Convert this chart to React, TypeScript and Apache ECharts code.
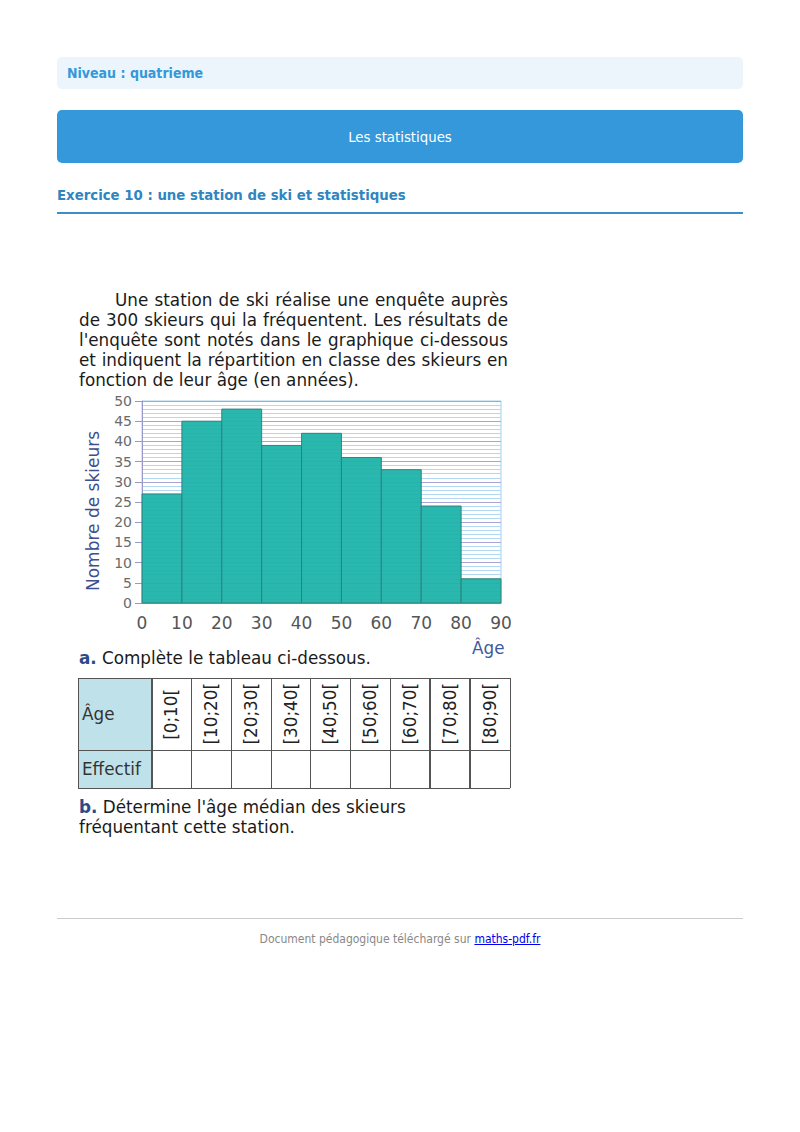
import React, { useEffect, useRef } from "react";
import * as echarts from "echarts";

const classStarts = [0, 10, 20, 30, 40, 50, 60, 70, 80];
const classEnds = [10, 20, 30, 40, 50, 60, 70, 80, 90];
const skiers = [27, 45, 48, 39, 42, 36, 33, 24, 6];
const classLabels = ["[0;10[", "[10;20[", "[20;30[", "[30;40[", "[40;50[", "[50;60[", "[60;70[", "[70;80[", "[80;90["];
const yAxisName = "Nombre de skieurs";
const xAxisName = "Âge";

const paragraphLines = [
  "Une station de ski réalise une enquête auprès",
  "de 300 skieurs qui la fréquentent. Les résultats de",
  "l'enquête sont notés dans le graphique ci-dessous",
  "et indiquent la répartition en classe des skieurs en",
  "fonction de leur âge (en années).",
];

const sansC = '"DejaVu Sans Condensed", "DejaVu Sans", sans-serif';
const sans = '"DejaVu Sans", Verdana, sans-serif';
const bodySize = 16.8;

function Histogram() {
  const ref = useRef<HTMLDivElement>(null);
  useEffect(() => {
    if (!ref.current) return;
    const chart = echarts.init(ref.current, null, { renderer: "svg" });
    const data = classStarts.map((s, i) => [s, classEnds[i], skiers[i]]);
    chart.setOption({
      animation: false,
      grid: {
        left: 64,
        top: 13,
        width: 359,
        height: 202,
        show: true,
        backgroundColor: "#ffffff",
        borderColor: "#9fd0ef",
        borderWidth: 1,
      },
      graphic: [
        {
          type: "text",
          x: 15,
          y: 123,
          rotation: Math.PI / 2,
          style: {
            text: yAxisName,
            fontSize: 17,
            fill: "#3d4f8f",
            fontFamily: sans,
            align: "center",
            verticalAlign: "middle",
          },
        },
      ],
      xAxis: {
        type: "value",
        min: 0,
        max: 90,
        interval: 10,
        axisLine: { show: true, lineStyle: { color: "#9a98c8", width: 1 } },
        axisTick: { show: false },
        axisLabel: { fontSize: 17, color: "#555", margin: 11, fontFamily: sans },
        splitLine: { show: false },
      },
      yAxis: {
        type: "value",
        min: 0,
        max: 50,
        interval: 5,
        axisLine: { show: true, lineStyle: { color: "#9a98c8", width: 1 } },
        axisTick: { show: true, length: 7, lineStyle: { color: "#9a98c8" } },
        axisLabel: { fontSize: 14, color: "#6a6a6a", margin: 10, fontFamily: sans },
        splitLine: { show: true, lineStyle: { color: "#a9a3d9", width: 1 } },
        minorTick: { show: false, splitNumber: 5 },
        minorSplitLine: { show: true, lineStyle: { color: "#b3d9f2", width: 1 } },
      },
      series: [
        {
          type: "custom",
          data,
          encode: { x: [0, 1], y: 2 },
          renderItem: (params: any, api: any) => {
            const p0 = api.coord([api.value(0), 0]);
            const p1 = api.coord([api.value(1), api.value(2)]);
            return {
              type: "rect",
              shape: { x: p0[0], y: p1[1], width: p1[0] - p0[0], height: p0[1] - p1[1] },
              style: { fill: "#1fb3aa", stroke: "#2f7f7b", lineWidth: 1, opacity: 0.95 },
            };
          },
        },
      ],
    });
    return () => chart.dispose();
  }, []);
  return <div ref={ref} style={{ position: "absolute", left: 78, top: 388, width: 440, height: 250 }} />;
}

export default function App() {
  const colLefts = [0, 73.5, 113, 153, 193, 232, 272, 312, 351.5, 391.5, 432];
  return (
    <div style={{ position: "absolute", left: 0, top: 0, width: 800, height: 1132, background: "#fff", fontFamily: sansC }}>
      <div style={{ position: "absolute", left: 57, top: 57, width: 686, height: 32, background: "#ebf5fb", borderRadius: 5 }}>
        <div style={{ position: "absolute", left: 10, top: 0, lineHeight: "32px", fontSize: 14, fontWeight: "bold", color: "#3498db", fontStretch: "condensed" }}>
          Niveau : quatrieme
        </div>
      </div>
      <div style={{ position: "absolute", left: 57, top: 110, width: 686, height: 53, background: "#3498db", borderRadius: 5, color: "#fff", textAlign: "center", lineHeight: "53px", fontSize: 14.8, fontStretch: "condensed" }}>
        Les statistiques
      </div>
      <div style={{ position: "absolute", left: 57, top: 185, lineHeight: "20px", fontSize: 14.8, fontWeight: "bold", color: "#2e86c1", fontStretch: "condensed" }}>
        Exercice 10 : une station de ski et statistiques
      </div>
      <div style={{ position: "absolute", left: 57, top: 212, width: 686, height: 2, background: "#3a8fc7" }} />

      <div style={{ position: "absolute", left: 79, top: 290, width: 429, fontFamily: sans, fontSize: bodySize, lineHeight: "20px", color: "#1a1a1a" }}>
        {paragraphLines.map((l, i) => (
          <div
            key={i}
            style={{
              textAlign: "justify",
              textAlignLast: i < paragraphLines.length - 1 ? "justify" : "left",
              textIndent: i === 0 ? 36 : 0,
              whiteSpace: i < paragraphLines.length - 1 ? "normal" : "nowrap",
              height: 20,
            } as any}
          >
            {l}
          </div>
        ))}
      </div>

      <Histogram />

      <div style={{ position: "absolute", left: 472, top: 638, fontFamily: sans, fontSize: bodySize, lineHeight: "20px", color: "#3d5a9e" }}>{xAxisName}</div>
      <div style={{ position: "absolute", left: 79, top: 648, fontFamily: sans, fontSize: bodySize, lineHeight: "20px", color: "#1a1a1a" }}>
        <b style={{ color: "#2a4a8a" }}>a.</b> Complète le tableau ci-dessous.
      </div>

      <div style={{ position: "absolute", left: 78, top: 678, width: 432, height: 110, fontFamily: sans }}>
        <div style={{ position: "absolute", left: 0, top: 0, width: 73.5, height: 110, background: "#bfe2ea" }} />
        {[0, 72, 110].map((y, i) => (
          <div key={"h" + i} style={{ position: "absolute", left: 0, top: y - 0.5, width: 432, height: 1.5, background: "#555" }} />
        ))}
        {colLefts.map((x, i) => (
          <div key={"v" + i} style={{ position: "absolute", left: x - 0.5, top: 0, width: 1.5, height: 110, background: "#555" }} />
        ))}
        <div style={{ position: "absolute", left: 4, top: 26, fontSize: bodySize, lineHeight: "20px", color: "#333" }}>Âge</div>
        <div style={{ position: "absolute", left: 4, top: 81, fontSize: bodySize, lineHeight: "20px", color: "#333" }}>Effectif</div>
        {classLabels.map((c, i) => (
          <div
            key={c}
            style={{
              position: "absolute",
              left: colLefts[i + 1],
              top: 0,
              width: colLefts[i + 2] - colLefts[i + 1],
              height: 72,
              display: "flex",
              alignItems: "center",
              justifyContent: "center",
            }}
          >
            <div style={{ writingMode: "vertical-rl", transform: "rotate(180deg)", fontSize: bodySize, color: "#222", lineHeight: "20px" } as any}>{c}</div>
          </div>
        ))}
      </div>

      <div style={{ position: "absolute", left: 79, top: 797, fontFamily: sans, fontSize: bodySize, lineHeight: "20px", color: "#1a1a1a" }}>
        <div><b style={{ color: "#2a4a8a" }}>b.</b> Détermine l'âge médian des skieurs</div>
        <div>fréquentant cette station.</div>
      </div>

      <div style={{ position: "absolute", left: 57, top: 918, width: 686, height: 1, background: "#ccc" }} />
      <div style={{ position: "absolute", left: 0, top: 930, width: 800, textAlign: "center", fontSize: 12, lineHeight: "18px", color: "#888", fontStretch: "condensed" }}>
        Document pédagogique téléchargé sur <a href="#" style={{ color: "#00e", textDecoration: "underline" }}>maths-pdf.fr</a>
      </div>
    </div>
  );
}
